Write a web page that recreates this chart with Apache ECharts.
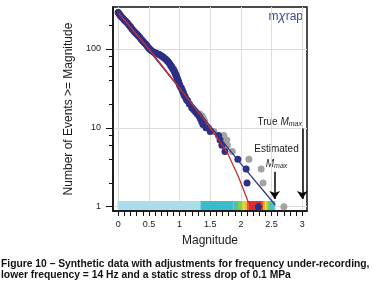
<!DOCTYPE html>
<html>
<head>
<meta charset="utf-8">
<script src="https://cdn.jsdelivr.net/npm/echarts@6/dist/echarts.min.js"></script>
<style>
  html, body { margin: 0; padding: 0; background: #fff; }
  #chart { width: 372px; height: 288px; }
</style>
</head>
<body>
<div id="chart"></div>
<script>
// == adjusted catalogue (navy dots) ==
const adjMag = [0, 0.02, 0.035, 0.05, 0.075, 0.1, 0.125, 0.15, 0.175, 0.2, 0.225, 0.25, 0.275, 0.3, 0.325, 0.35, 0.375,
  0.4, 0.425, 0.45, 0.475, 0.5, 0.525, 0.55, 0.58, 0.61, 0.64, 0.67, 0.7, 0.725, 0.75, 0.775, 0.8, 0.82, 0.84,
  0.855, 0.87, 0.885, 0.9, 0.91, 0.92, 0.93, 0.94, 0.95, 0.96, 0.97, 0.98, 0.99, 1.0, 1.015, 1.03, 1.045, 1.06,
  1.075, 1.09, 1.11, 1.13, 1.16, 1.2, 1.23, 1.26, 1.29, 1.32, 1.34, 1.36, 1.38, 1.43, 1.5, 1.635, 1.66, 1.69,
  1.74, 1.95, 2.085, 2.1, 2.285];
const adjCount = [290, 275, 266, 257, 245, 234, 224, 214, 202, 191, 180, 170, 162, 155, 148, 141, 133,
  126, 120, 115, 108, 102, 98, 94, 91, 89, 87, 85, 82, 80, 77, 74, 71, 68, 65,
  62, 60, 57, 55, 53, 51, 49, 47, 45, 43, 41, 39, 37, 35, 33, 32, 30, 28,
  26, 25, 23, 22, 20, 18, 17, 16, 15, 14, 13, 12, 11, 10, 9, 8, 7, 6,
  5, 4, 3, 2, 1];
// == original synthetic catalogue (grey dots) ==
const rawMag = [0, 0.1, 0.2, 0.3, 0.4, 0.5, 0.6, 0.7, 0.8, 0.87, 0.93, 1.0, 1.06, 1.13, 1.2, 1.26, 1.33, 1.37,
  1.39, 1.41, 1.47, 1.56, 1.72, 1.77, 1.78, 1.86, 2.13, 2.33, 2.36, 2.7];
const rawCount = [290, 234, 191, 155, 126, 102, 90, 82, 71, 60, 49, 35, 28, 22, 18, 16, 15, 14,
  13, 12, 10, 9, 8, 7, 6, 5, 4, 3, 2, 1];
// == fitted curves ==
const redFitMag = [0, 0.5, 1.0, 1.5, 1.77, 1.96, 2.12, 2.21];
const redFitCount = [288, 100, 32, 10, 5, 2.4, 1.15, 0.95];
const blueFitMag = [0, 1.34, 2.0, 2.56];
const blueFitCount = [292, 15, 3.5, 1.05];
// == Mmax probability strip ==
const stripMag = [-0.01, 1.34, 1.34, 1.88, 1.97, 2.02, 2.05, 2.09, 2.12, 2.34, 2.37, 2.4, 2.44, 2.49, 2.56];
const stripColor = ['#a8dde9', '#a8dde9', '#3bbccd', '#3bbccd', '#7cc653', '#a6cd3a', '#f1e21a', '#f7a11c',
  '#e52b2a', '#e02a2a', '#f47c20', '#f3e01b', '#8dca49', '#44c1bd', '#5bc8da'];
const stripTop = 1.18;
// == Mmax arrows ==
const estMmax = 2.55;
const trueMmax = 3.0;
// == ticks ==
const xMinorTicks = [0, 0.1, 0.2, 0.3, 0.4, 0.5, 0.6, 0.7, 0.8, 0.9, 1, 1.1, 1.2, 1.3, 1.4, 1.5, 1.6, 1.7, 1.8,
  1.9, 2, 2.1, 2.2, 2.3, 2.4, 2.5, 2.6, 2.7, 2.8, 2.9, 3];
const xLabels = [0, 0.5, 1, 1.5, 2, 2.5, 3];
const yLabels = [1, 10, 100];
const yMinorTicks = [2, 4, 6, 8, 20, 40, 60, 80, 200];

const xMin = -0.085, xMax = 3.077, yMin = 0.882, yMax = 341;

const pairs = (a, b) => a.map((v, i) => [v, b[i]]);

const stripData = [];
for (let i = 0; i < stripMag.length - 1; i++) {
  if (stripMag[i + 1] > stripMag[i]) stripData.push([stripMag[i], stripMag[i + 1], stripTop, i]);
}

var chartDom = document.getElementById('chart');
var myChart = echarts.init(chartDom);
var option;

const txt = '#1a1a1a';
const font = 'Liberation Sans, Arial, sans-serif';

option = {
  animation: false,
  grid: { left: 113, right: 65, top: 7, bottom: 77, show: true, borderColor: '#111', borderWidth: 1.5 },
  xAxis: [
    {
      type: 'value', min: xMin, max: xMax, position: 'bottom',
      name: 'Magnitude', nameLocation: 'middle', nameGap: 24,
      nameTextStyle: { color: txt, fontSize: 12, fontFamily: font },
      axisLine: { show: true, onZero: false, lineStyle: { color: '#111', width: 1.5 } },
      axisTick: { show: true, length: 5, customValues: xMinorTicks, lineStyle: { color: '#111' } },
      axisLabel: { customValues: xLabels, color: txt, fontSize: 9, fontFamily: font, margin: 9 },
      splitLine: { show: false }
    },
    {
      type: 'value', min: xMin, max: xMax, position: 'bottom',
      axisLine: { show: false },
      axisTick: { show: false, customValues: xLabels },
      axisLabel: { show: false },
      splitLine: { show: true, lineStyle: { color: '#dcdcdc', width: 1 } }
    }
  ],
  yAxis: [
    {
      type: 'log', logBase: 10, min: yMin, max: yMax, position: 'left',
      name: 'Number of Events >= Magnitude', nameLocation: 'middle', nameGap: 33,
      nameTextStyle: { color: txt, fontSize: 12, fontFamily: font },
      axisLine: { show: true, onZero: false, lineStyle: { color: '#111', width: 1.5 } },
      axisTick: { show: true, length: 7, customValues: yLabels, lineStyle: { color: '#111' } },
      axisLabel: { customValues: yLabels, color: txt, fontSize: 9, fontFamily: font, margin: 12 },
      splitLine: { show: true, lineStyle: { color: '#dcdcdc', width: 1 } }
    },
    {
      type: 'log', logBase: 10, min: yMin, max: yMax, position: 'left',
      axisLine: { show: false, onZero: false },
      axisTick: { show: true, length: 4, customValues: yMinorTicks, lineStyle: { color: '#111' } },
      axisLabel: { show: false },
      splitLine: { show: false }
    }
  ],
  graphic: [
    {
      type: 'text', right: 69, top: 10,
      style: {
        text: '{a|m}{b|χ}{a|rap}',
        rich: {
          a: { fill: '#3b4c92', fontSize: 12, fontFamily: font },
          b: { fill: '#3b4c92', fontSize: 13, fontStyle: 'italic', fontFamily: font }
        }
      }
    },
    {
      type: 'text', right: 70, top: 117,
      style: {
        text: '{a|True }{m|M}{s|max}',
        rich: {
          a: { fill: txt, fontSize: 10, fontFamily: font },
          m: { fill: txt, fontSize: 10, fontStyle: 'italic', fontFamily: font },
          s: { fill: txt, fontSize: 7, fontStyle: 'italic', fontFamily: font, padding: [4, 0, 0, 0] }
        }
      }
    },
    {
      type: 'text', x: 276.5, y: 144,
      style: { text: 'Estimated', fill: txt, fontSize: 10, fontFamily: font, align: 'center' }
    },
    {
      type: 'text', x: 276.5, y: 159,
      style: {
        text: '{m|M}{s|max}', align: 'center',
        rich: {
          m: { fill: txt, fontSize: 10, fontStyle: 'italic', fontFamily: font },
          s: { fill: txt, fontSize: 7, fontStyle: 'italic', fontFamily: font, padding: [4, 0, 0, 0] }
        }
      }
    },
    {
      type: 'text', left: 1, top: 258,
      style: {
        text: 'Figure 10 \u2013 Synthetic data with adjustments for frequency under-recording,\nlower frequency = 14 Hz and a static stress drop of 0.1 MPa',
        fill: '#111', fontSize: 10.3, fontWeight: 'bold', fontFamily: font, lineHeight: 11.5
      }
    }
  ],
  series: [
    {
      name: 'strip', type: 'custom', xAxisIndex: 0, yAxisIndex: 0, z: 1, silent: true,
      encode: { x: [0, 1], y: 2 },
      renderItem: function (params, api) {
        const i = api.value(3);
        const p0 = api.coord([api.value(0), stripTop]);
        const p1 = api.coord([api.value(1), yMin]);
        return {
          type: 'rect',
          shape: { x: p0[0], y: p0[1], width: p1[0] - p0[0], height: p1[1] - p0[1] - 1 },
          style: {
            fill: new echarts.graphic.LinearGradient(0, 0, 1, 0, [
              { offset: 0, color: stripColor[i] },
              { offset: 1, color: stripColor[i + 1] }
            ])
          }
        };
      },
      data: stripData
    },
    {
      name: 'synthetic', type: 'scatter', z: 2, symbolSize: 7, silent: true,
      itemStyle: { color: '#a3a3a3', opacity: 1 },
      data: pairs(rawMag, rawCount)
    },
    {
      name: 'adjusted', type: 'scatter', z: 3, symbolSize: 7, silent: true,
      itemStyle: { color: '#2c2f84', opacity: 1 },
      data: pairs(adjMag, adjCount)
    },
    {
      name: 'fit adjusted', type: 'line', z: 4, showSymbol: false, silent: true,
      lineStyle: { color: '#2c3a8a', width: 1.3 },
      data: pairs(blueFitMag, blueFitCount),
      markLine: {
        silent: true, symbol: ['none', 'arrow'], symbolSize: 8,
        label: { show: false },
        lineStyle: { color: '#000', width: 1.5, type: 'solid' },
        emphasis: { disabled: true },
        data: [
          [{ coord: [estMmax, 2.77] }, { coord: [estMmax, 1.25] }],
          [{ coord: [trueMmax, 9.8] }, { coord: [trueMmax, 1.25] }]
        ]
      }
    },
    {
      name: 'fit truncated', type: 'line', z: 5, showSymbol: false, silent: true,
      lineStyle: { color: '#c4302f', width: 1.3 },
      data: pairs(redFitMag, redFitCount)
    }
  ]
};

option && myChart.setOption(option);
</script>
</body>
</html>
